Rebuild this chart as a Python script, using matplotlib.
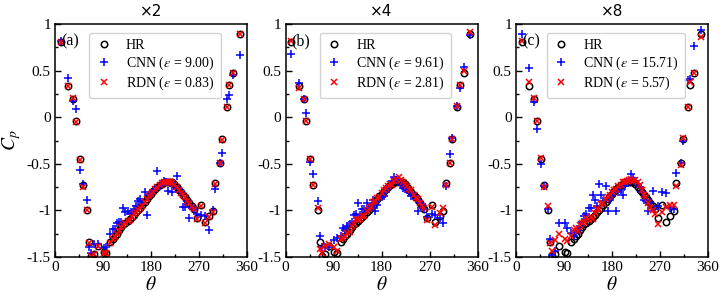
import matplotlib
matplotlib.use("Agg")
import matplotlib.pyplot as plt
from matplotlib.ticker import MultipleLocator

plt.rcParams['font.family'] = 'serif'
plt.rcParams['font.serif'] = ['Liberation Serif', 'DejaVu Serif']
plt.rcParams['mathtext.fontset'] = 'stix'
plt.rcParams['axes.unicode_minus'] = False

# ---------------- data ----------------
theta = [11, 25, 34, 39, 46, 52, 60, 64, 68, 74, 81, 91, 96,
         104, 108, 112, 116, 120, 124, 128, 132, 136, 140,
         144, 148, 152, 156, 160, 164, 168, 172, 176, 180,
         184, 188, 192, 196, 200, 204, 208, 212, 216, 220,
         224, 228, 232, 236, 240, 244, 248, 252, 256, 260,
         266, 274, 281, 289, 296, 300, 309, 313, 322, 327, 334, 346]

hr = [0.81, 0.34, 0.20, -0.04, -0.45, -0.73, -1.00, -1.34, -1.49, -1.47, -1.38, -1.45, -1.46,
      -1.34, -1.31, -1.28, -1.25, -1.21, -1.18, -1.15, -1.13, -1.11, -1.09,
      -1.07, -1.05, -1.02, -1.00, -0.97, -0.94, -0.91, -0.88, -0.85, -0.82,
      -0.79, -0.77, -0.75, -0.73, -0.72, -0.70, -0.69, -0.69, -0.69, -0.70,
      -0.72, -0.75, -0.78, -0.80, -0.83, -0.86, -0.89, -0.92, -0.95, -0.98,
      -1.08, -0.94, -1.12, -1.06, -1.01, -0.71, -0.49, -0.23, 0.11, 0.35, 0.47, 0.89]

cnn_x2 = [0.82, 0.42, 0.17, 0.09, -0.57, -0.72, -0.89, -1.39, -1.46, -1.36, -1.36, -1.40, -1.39,
          -1.25, -1.20, -1.20, -1.13, -1.12, -1.12, -0.97, -1.02, -1.01, -1.04,
          -1.03, -0.98, -0.95, -0.90, -0.88, -0.93, -0.80, -1.05, -0.84, -0.82,
          -0.78, -0.77, -0.58, -0.74, -0.71, -0.68, -0.70, -0.79, -0.71, -0.80,
          -0.74, -0.63, -0.77, -0.80, -0.96, -0.96, -0.90, -1.08, -0.97, -0.99,
          -1.04, -1.05, -1.06, -1.21, -1.00, -0.77, -0.49, -0.38, 0.20, 0.24, 0.45, 0.67]

rdn_x2 = [0.81, 0.34, 0.21, -0.05, -0.46, -0.75, -1.00, -1.35, -1.49, -1.47, -1.38, -1.46, -1.46,
          -1.35, -1.31, -1.29, -1.25, -1.22, -1.18, -1.16, -1.13, -1.11, -1.10,
          -1.07, -1.04, -1.02, -1.00, -0.97, -0.95, -0.91, -0.88, -0.85, -0.82,
          -0.80, -0.77, -0.75, -0.73, -0.71, -0.70, -0.69, -0.70, -0.69, -0.71,
          -0.73, -0.75, -0.78, -0.81, -0.83, -0.86, -0.90, -0.92, -0.96, -0.98,
          -1.09, -0.95, -1.13, -1.07, -1.02, -0.72, -0.49, -0.24, 0.11, 0.35, 0.47, 0.89]

cnn_x4 = [0.68, 0.37, 0.19, 0.04, -0.48, -0.61, -0.90, -1.28, -1.39, -1.39, -1.39, -1.32, -1.30,
          -1.28, -1.19, -1.21, -1.17, -1.15, -1.12, -1.05, -1.04, -0.92, -1.05,
          -0.99, -0.98, -0.92, -0.97, -0.96, -0.89, -1.01, -0.94, -0.88, -0.86,
          -0.85, -0.80, -0.76, -0.74, -0.68, -0.64, -0.67, -0.70, -0.73, -0.76,
          -0.77, -0.78, -0.80, -0.85, -0.85, -0.88, -1.01, -0.92, -0.93, -0.98,
          -1.07, -1.04, -1.05, -1.08, -1.14, -0.74, -0.39, -0.22, 0.12, 0.31, 0.54, 0.88]

rdn_x4 = [0.82, 0.31, 0.20, -0.04, -0.45, -0.73, -0.97, -1.41, -1.46, -1.38, -1.36, -1.39, -1.44,
          -1.31, -1.30, -1.27, -1.24, -1.23, -1.17, -1.15, -1.09, -1.10, -1.09,
          -1.06, -1.06, -1.01, -0.99, -0.96, -0.91, -0.90, -0.87, -0.86, -0.81,
          -0.78, -0.76, -0.74, -0.72, -0.73, -0.68, -0.66, -0.64, -0.67, -0.69,
          -0.72, -0.74, -0.77, -0.78, -0.84, -0.87, -0.88, -0.92, -0.95, -0.97,
          -1.10, -0.96, -1.16, -1.03, -0.97, -0.73, -0.49, -0.23, 0.12, 0.35, 0.50, 0.91]

cnn_x8 = [0.89, 0.53, 0.16, -0.13, -0.50, -0.74, -0.98, -1.31, -1.48, -1.44, -1.13, -1.13, -1.19,
          -1.24, -1.27, -1.22, -1.21, -1.17, -1.12, -1.06, -1.04, -0.97, -0.97,
          -0.83, -0.89, -0.95, -0.72, -0.83, -0.90, -0.74, -1.01, -0.89, -0.85,
          -0.79, -1.01, -0.80, -0.78, -0.84, -0.74, -0.70, -0.68, -0.61, -0.65,
          -0.69, -0.72, -0.75, -0.80, -0.89, -0.90, -1.01, -0.91, -0.79, -0.99,
          -0.95, -0.80, -0.81, -0.97, -0.99, -0.60, -0.49, -0.25, 0.40, 0.41, 0.76, 0.94]

rdn_x8 = [0.82, 0.38, 0.21, -0.04, -0.44, -0.75, -0.95, -1.35, -1.44, -1.32, -1.25, -1.31, -1.33,
          -1.27, -1.21, -1.19, -1.22, -1.16, -1.13, -1.12, -1.08, -1.10, -1.07,
          -1.09, -1.03, -0.99, -1.00, -0.93, -0.92, -0.88, -0.86, -0.84, -0.80,
          -0.78, -0.77, -0.74, -0.73, -0.70, -0.70, -0.68, -0.67, -0.66, -0.68,
          -0.67, -0.70, -0.73, -0.78, -0.83, -0.86, -0.92, -0.97, -1.00, -1.04,
          -1.15, -1.02, -0.96, -0.94, -0.94, -0.74, -0.51, -0.22, 0.11, 0.38, 0.47, 0.86]

titles = ['×2', '×4', '×8']
panel_labels = ['(a)', '(b)', '(c)']
cnn_eps = ['9.00', '9.61', '15.71']
rdn_eps = ['0.83', '2.81', '5.57']
cnn_all = [cnn_x2, cnn_x4, cnn_x8]
rdn_all = [rdn_x2, rdn_x4, rdn_x8]

# ---------------- figure ----------------
fig = plt.figure(figsize=(7.2, 3.0), dpi=100)
lefts = [55 / 720, 285.5 / 720, 516 / 720]
W, H = 192 / 720, 233 / 300
B = 43 / 300

for i in range(3):
    ax = fig.add_axes([lefts[i], B, W, H])
    ax.plot(theta, hr, 'o', mfc='none', mec='black', ms=4.6, mew=1.1, label='HR')
    ax.plot(theta, cnn_all[i], '+', color='#0000ff', ms=6.0, mew=1.1,
            label=r'CNN ($\varepsilon$ = ' + cnn_eps[i] + ')')
    ax.plot(theta, rdn_all[i], 'x', color='#ff0000', ms=4.4, mew=1.1,
            label=r'RDN ($\varepsilon$ = ' + rdn_eps[i] + ')')
    ax.set_xlim(0, 360)
    ax.set_ylim(-1.5, 1)
    ax.xaxis.set_major_locator(MultipleLocator(90))
    ax.xaxis.set_minor_locator(MultipleLocator(45))
    ax.yaxis.set_minor_locator(MultipleLocator(0.25))
    ax.set_yticks([-1.5, -1, -0.5, 0, 0.5, 1])
    ax.set_yticklabels(['-1.5', '-1', '-0.5', '0', '0.5', '1'])
    ax.tick_params(which='both', direction='in', top=False, right=False,
                   labelsize=11, width=1.0)
    ax.tick_params(which='major', length=4, pad=3)
    ax.tick_params(which='minor', length=2.5)
    for sp in ax.spines.values():
        sp.set_linewidth(1.1)
    ax.set_title(titles[i], fontfamily='DejaVu Sans', fontsize=11, pad=6)
    ax.set_xlabel(r'$\theta$', fontsize=14, labelpad=1)
    if i == 0:
        ax.set_ylabel(r'$C_p$', fontsize=14)
        ax.yaxis.set_label_coords(-0.165, 0.5)
    ax.text(0.03, 0.925, panel_labels[i], transform=ax.transAxes,
            fontsize=11.5, va='center', ha='left')
    leg = ax.legend(loc='upper center', bbox_to_anchor=(0.52, 0.993), fontsize=10,
                    handlelength=1.2, handletextpad=1.0, labelspacing=0.2,
                    borderpad=0.45, fancybox=True, framealpha=0.85)
    leg.get_frame().set_edgecolor('#cccccc')
    leg.get_frame().set_linewidth(1.0)

fig.savefig('out.png', dpi=100)
